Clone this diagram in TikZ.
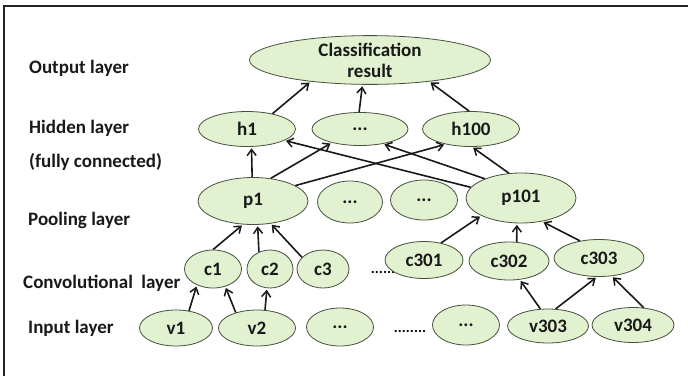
\documentclass[tikz,border=0pt]{standalone}
\usepackage{fontspec}
\setmainfont{Carlito}
\usetikzlibrary{shapes.geometric,arrows.meta}
\definecolor{nodefill}{RGB}{226,241,208}
\definecolor{nodeline}{RGB}{70,80,62}
\definecolor{framecol}{RGB}{35,35,35}
\tikzset{
  el/.style={ellipse, draw=nodeline, line width=0.8pt, fill=nodefill, inner sep=0pt,
             font=\fontsize{19}{20}\selectfont\bfseries, text=black!90},
  lab/.style={anchor=west, inner sep=0pt, font=\fontsize{19}{20}\selectfont\bfseries, text=black!90},
  dotlab/.style={inner sep=0pt, font=\fontsize{15}{16}\selectfont\bfseries},
  arr/.style={-{Straight Barb[length=6pt,width=9pt,line width=1.5pt]}, line width=1.6pt, black!90, shorten >=1.5pt},
}
\begin{document}
\begin{tikzpicture}[x=1pt,y=-1pt]
\useasboundingbox (0,0) rectangle (688,376);
\fill[white] (0,0) rectangle (688,376);
% frame
\draw[framecol, line width=2pt] (4,376) -- (4,6) -- (688,6);

% labels
\node[lab] (lout) at (29,68) {Output layer};
\node[lab] (lhid) at (29,128) {Hidden layer};
\node[lab] (lfc) at (29,162) {(fully connected)};
\node[lab] (lpool) at (28,220) {Pooling layer};
\node[lab] (lconv) at (23,283) {Convolutional\ \ layer};
\node[lab] (lin) at (28,328) {Input layer};

% output
\node[el, minimum width=241pt, minimum height=48pt, align=center,
      font=\fontsize{19}{21}\selectfont\bfseries] (out) at (370,60) {Classification\\result};
% hidden
\node[el, minimum width=97pt, minimum height=35pt] (h1) at (247,129) {h1};
\node[el, minimum width=96pt, minimum height=33pt] (hd) at (360,129) {...};
\node[el, minimum width=97pt, minimum height=35pt] (h100) at (471,129) {h100};
% pooling
\node[el, minimum width=110pt, minimum height=47pt] (p1) at (253,201) {p1};
\node[el, minimum width=65pt, minimum height=42pt] (pd1) at (350,202) {...};
\node[el, minimum width=67pt, minimum height=40pt] (pd2) at (424,200) {...};
\node[el, minimum width=110pt, minimum height=50pt] (p101) at (521,198) {p101};
% conv
\node[el, minimum width=57pt, minimum height=38pt] (c1) at (213,269) {c1};
\node[el, minimum width=46pt, minimum height=38pt] (c2) at (270,269) {c2};
\node[el, minimum width=52pt, minimum height=38pt] (c3) at (323,269) {c3};
\node[dotlab] (cdots) at (383,272) {......};
\node[el, minimum width=78pt, minimum height=37pt] (c301) at (424,260) {c301};
\node[el, minimum width=80pt, minimum height=38pt] (c302) at (509,261) {c302};
\node[el, minimum width=90pt, minimum height=37pt] (c303) at (599,258) {c303};
% input
\node[el, minimum width=73pt, minimum height=36pt] (v1) at (176,328) {v1};
\node[el, minimum width=77pt, minimum height=36pt] (v2) at (257,328) {v2};
\node[el, minimum width=67pt, minimum height=38pt] (vd1) at (340,327) {...};
\node[dotlab] (vdots) at (410,331) {........};
\node[el, minimum width=67pt, minimum height=40pt] (vd2) at (466,325) {...};
\node[el, minimum width=81pt, minimum height=34pt] (v303) at (548,326) {v303};
\node[el, minimum width=82pt, minimum height=35pt] (v304) at (633,325) {v304};

% hidden -> output
\draw[arr] (h1.31.6) -- (out.200.3);
\draw[arr] (hd.93.6) -- (out.253.5);
\draw[arr] (h100.96) -- (out.340.4);
% pooling -> hidden
\draw[arr] (p1.92.2) -- (h1.284);
\draw[arr] (p1.52.4) -- (hd.206);
\draw[arr] (p1.20) -- (h100.211.8);
\draw[arr] (p101.168.9) -- (h1.343);
\draw[arr] (p101.152.9) -- (hd.327.3);
\draw[arr] (p101.116.6) -- (h100.273);
% conv -> pooling
\draw[arr] (c1.90) -- (p1.247.4);
\draw[arr] (c2.123.7) -- (p1.281.8);
\draw[arr] (c3.151.9) -- (p1.308.4);
\draw[arr] (c301.45) -- (p101.204.2);
\draw[arr] (c302.68) -- (p101.261.3);
\draw[arr] (c303.138) -- (p101.312.3);
% input -> conv
\draw[arr] (v1.53.7) -- (c1.225);
\draw[arr] (v2.144.7) -- (c1.305.5);
\draw[arr] (v2.66) -- (c2.261.9);
\draw[arr] (v303.114.2) -- (c302.300.5);
\draw[arr] (v303.66) -- (c303.264.3);
\draw[arr] (v304.58.6) -- (c303.305.8);
\end{tikzpicture}
\end{document}
